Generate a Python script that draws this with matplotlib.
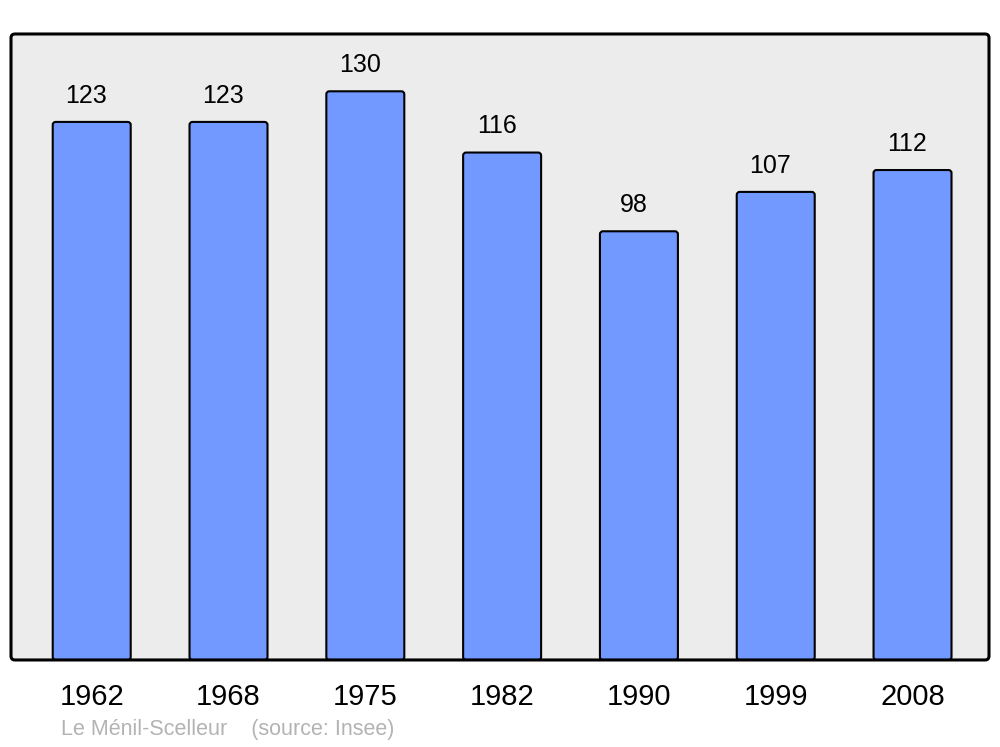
import matplotlib.pyplot as plt
import numpy as np
from matplotlib.patches import FancyBboxPatch

plt.rcParams['font.family'] = ['Liberation Sans', 'DejaVu Sans']

# donnees
annees = ['1962', '1968', '1975', '1982', '1990', '1999', '2008']
population = [123, 123, 130, 116, 98, 107, 112]
commune = 'Le Ménil-Scelleur'
source = '(source: Insee)'

fig = plt.figure(figsize=(10, 7.47), dpi=100)
ax = fig.add_axes([0.011, 0.1165, 0.978, 0.838])
ax.set_facecolor('#ececec')

x = np.arange(len(annees))
barres = ax.bar(x, population, width=0.57, color='#7299ff', edgecolor='black',
                linewidth=1.5, zorder=2)

# coins arrondis : on remplace chaque barre par un FancyBboxPatch
for b in barres:
    b.set_visible(False)
    p = FancyBboxPatch((b.get_x(), b.get_y()), b.get_width(), b.get_height(),
                       boxstyle='round,pad=0,rounding_size=0.022',
                       mutation_aspect=31, fc='#7299ff', ec='black', lw=1.5,
                       zorder=2)
    ax.add_patch(p)

# valeurs au-dessus des barres
for xi, v in zip(x, population):
    ax.annotate(str(v), (xi, v), xytext=(-3.8, 19), textcoords='offset points',
                ha='center', va='center', fontsize=18)

ax.set_xlim(-0.59, 6.559)
ax.set_ylim(0, 143.1)
ax.set_xticks(x)
ax.set_xticklabels(annees, fontsize=21)
ax.tick_params(axis='x', length=0, pad=16.5)
ax.set_yticks([])
for s in ax.spines.values():
    s.set_visible(False)

# cadre arrondi
cadre = FancyBboxPatch((0.011, 0.1165), 0.978, 0.838,
                       boxstyle='round,pad=0,rounding_size=0.004',
                       mutation_aspect=1000/747, transform=fig.transFigure,
                       fc='none', ec='black', lw=2.2, zorder=5)
fig.patches.append(cadre)

fig.text(0.061, 0.023, commune + '    ' + source, color='#b3b3b3', fontsize=15.5,
         ha='left', va='center')

fig.savefig('out.png', dpi=100)
